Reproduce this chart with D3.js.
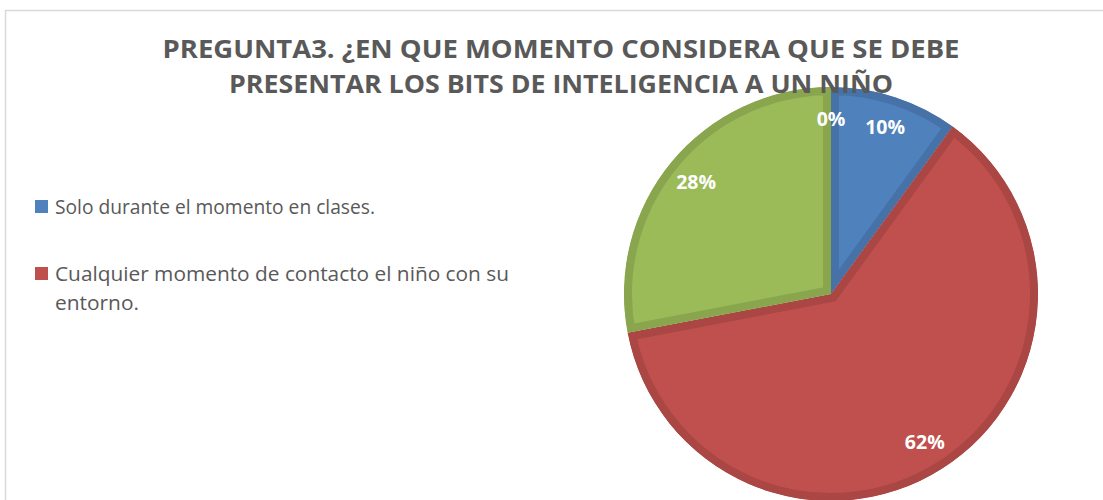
<!DOCTYPE html>
<html><head><meta charset="utf-8">
<script src="https://cdn.jsdelivr.net/npm/d3@7"></script>
<style>html,body{margin:0;padding:0;background:#fff;overflow:hidden}</style>
</head><body>
<svg id="c" width="1103" height="500"></svg>
<script>
const sliceValues = [10, 62, 28, 0];
const sliceLabels = ["10%", "62%", "28%", "0%"];
const sliceColors = ["#4F81BD", "#C0504D", "#9BBB59", "#8064A2"];
const sliceEdges  = ["#4672A8", "#AA4643", "#89A54E", "#71588F"];
const legendLabels = [["Solo durante el momento en clases."], ["Cualquier momento de contacto el niño con su", "entorno."]];
const titleLines = ["PREGUNTA3. ¿EN QUE MOMENTO CONSIDERA QUE SE DEBE", "PRESENTAR LOS BITS DE INTELIGENCIA A UN NIÑO"];

const svg = d3.select("#c");
svg.append("rect").attr("x",5.5).attr("y",10.5).attr("width",1110).attr("height",500)
  .attr("fill","#fff").attr("stroke","#d9d9d9").attr("stroke-width",1.5);

const cx = 831, cy = 294, R = 207;
const pie = d3.pie().sort(null).value(d=>d);
const arcs = pie(sliceValues);
const arc = d3.arc().innerRadius(0).outerRadius(R);
const labelArc = d3.arc().innerRadius(175).outerRadius(175);
const g = svg.append("g").attr("transform",`translate(${cx},${cy})`);
const defs = svg.append("defs");
arcs.forEach((a,i)=>{
  defs.append("clipPath").attr("id","cp"+i).append("path").attr("d",arc(a));
});
g.selectAll("path.s").data(arcs).join("path").attr("class","s")
  .attr("d",arc).attr("fill",(d,i)=>sliceColors[i])
  .attr("stroke",(d,i)=>sliceEdges[i]).attr("stroke-width",16)
  .attr("stroke-linejoin","miter")
  .attr("clip-path",(d,i)=>`url(#cp${i})`);
g.selectAll("text.l").data(arcs).join("text").attr("class","l")
  .attr("transform",d=>`translate(${labelArc.centroid(d)})`)
  .attr("text-anchor","middle").attr("dy","0.35em")
  .attr("fill","#fff").attr("font-family","Open Sans").attr("font-weight","bold")
  .attr("font-size",19.5).text((d,i)=>sliceLabels[i]);

// title
const titleY = [58, 93], titleW = [797, 664];
svg.selectAll("text.t").data(titleLines).join("text").attr("class","t")
  .attr("x",561).attr("y",(d,i)=>titleY[i]).attr("text-anchor","middle")
  .attr("font-family","Open Sans").attr("font-weight","bold").attr("font-size",25)
  .attr("fill","#595959").attr("textLength",(d,i)=>titleW[i])
  .attr("lengthAdjust","spacingAndGlyphs").text(d=>d);

// legend
const legY = [207, 274];
const legW = [[320],[454, 84]];
legendLabels.forEach((lines,i)=>{
  svg.append("rect").attr("x",35).attr("y",legY[i]-7).attr("width",13).attr("height",13)
    .attr("fill",sliceColors[i]);
  lines.forEach((t,j)=>{
    svg.append("text").attr("x",55).attr("y",legY[i]+j*29).attr("dy","0.35em")
      .attr("font-family","Open Sans").attr("font-size",19.5).attr("fill","#595959")
      .attr("textLength",legW[i][j]).attr("lengthAdjust","spacingAndGlyphs").text(t);
  });
});
</script>
</body></html>
